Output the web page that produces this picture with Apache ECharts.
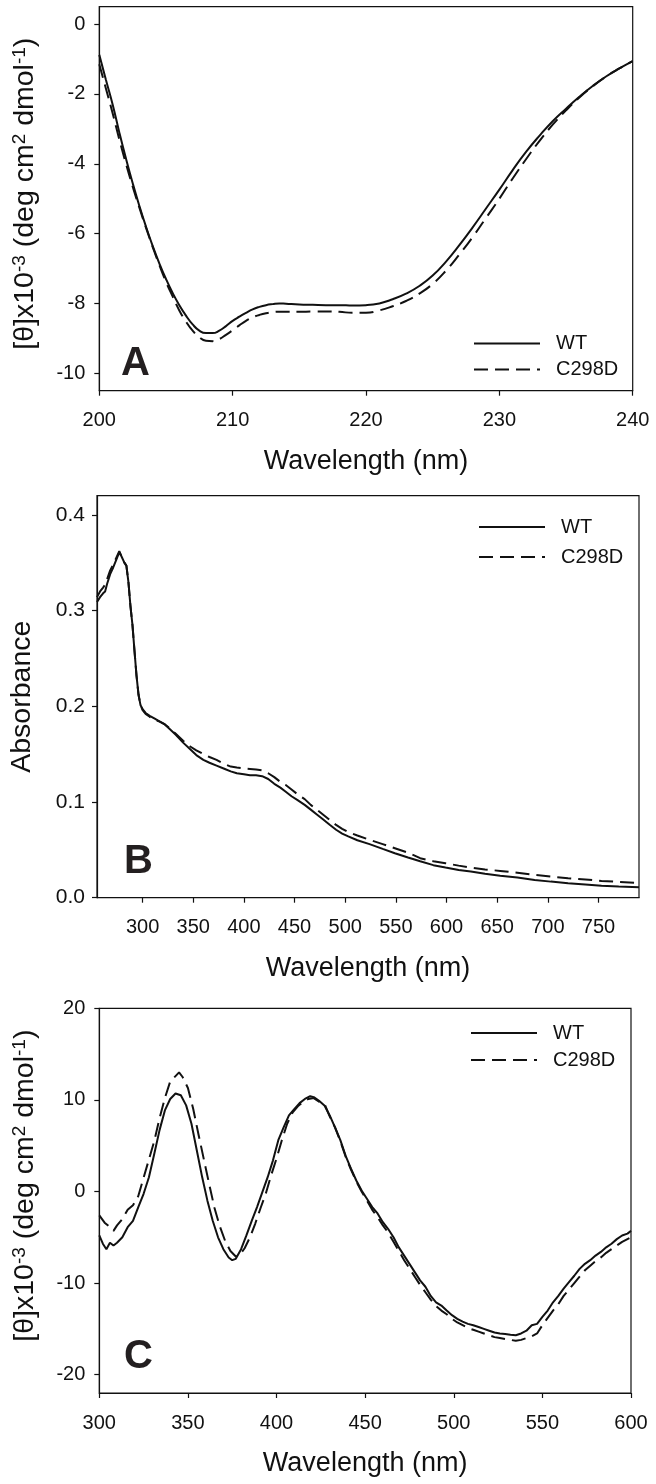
<!DOCTYPE html>
<html>
<head>
<meta charset="utf-8">
<script src="https://cdn.jsdelivr.net/npm/echarts@6.0.0/dist/echarts.min.js"></script>
<style>
html,body{margin:0;padding:0;background:#fff;}
#chart{width:656px;height:1484px;}
</style>
</head>
<body>
<div id="chart"></div>
<script>
// ---------- Panel A : far-UV CD ----------
const wlA = [200,200.5,201,201.5,202,202.5,203,203.5,204,204.5,205,205.5,206,206.5,207,207.5,208,208.5,209,209.5,210,210.5,211,211.5,212,212.5,213,213.5,
  214,215,216,217,218,219,220,221,222,223,224,225,226,227,228,229,230,231,232,233,234,235,236,237,238,239,240];
const wtA = [-0.88,-1.6,-2.3,-3.1,-3.85,-4.55,-5.2,-5.8,-6.35,-6.85,-7.3,-7.7,-8.05,-8.35,-8.6,-8.78,-8.85,-8.85,-8.78,-8.65,-8.5,-8.38,-8.27,-8.17,-8.1,-8.05,-8.02,-8.0,
  -8.01,-8.03,-8.04,-8.05,-8.05,-8.06,-8.05,-8.0,-7.88,-7.72,-7.5,-7.2,-6.8,-6.33,-5.82,-5.28,-4.74,-4.18,-3.66,-3.2,-2.78,-2.42,-2.08,-1.77,-1.5,-1.27,-1.06];
const mutA = [-1.15,-1.85,-2.55,-3.3,-4.0,-4.65,-5.25,-5.83,-6.38,-6.9,-7.38,-7.8,-8.2,-8.52,-8.78,-8.97,-9.07,-9.08,-9.02,-8.9,-8.77,-8.63,-8.5,-8.4,-8.33,-8.28,-8.25,-8.24,
  -8.24,-8.24,-8.23,-8.23,-8.24,-8.27,-8.27,-8.2,-8.08,-7.93,-7.72,-7.44,-7.06,-6.6,-6.1,-5.55,-5.0,-4.42,-3.87,-3.35,-2.88,-2.47,-2.1,-1.78,-1.5,-1.27,-1.06];
const ticksAx = [200,210,220,230,240];
const ticksAy = [-10,-8,-6,-4,-2,0];

// ---------- Panel B : absorbance ----------
const wlB = [255,258,261,263,265,268,271,274,277,279,282,284,286,288,290,292,294,296,298,300,303,307,312,317,322,327,333,340,347,353,360,366,373,380,387,393,400,406,412,418,424,430,436,441,447,453,460,466,472,478,485,491,497,503,512,524,537,549,562,574,587,599,612,624,638,653,670,687,703,720,737,753,770,790];
const wtB = [0.309,0.314,0.318,0.320,0.328,0.338,0.345,0.353,0.361,0.357,0.350,0.347,0.330,0.305,0.285,0.258,0.232,0.212,0.201,0.197,0.193,0.190,0.187,0.184,0.181,0.176,0.170,0.162,0.155,0.149,0.144,0.141,0.138,0.135,0.132,0.130,0.129,0.128,0.128,0.127,0.124,0.119,0.115,0.111,0.106,0.102,0.097,0.092,0.087,0.082,0.076,0.071,0.067,0.064,0.060,0.056,0.051,0.0465,0.042,0.038,0.034,0.0315,0.029,0.0273,0.025,0.023,0.021,0.0185,0.0168,0.015,0.0138,0.0126,0.0118,0.011];
const mutB = [0.314,0.320,0.324,0.327,0.333,0.342,0.348,0.355,0.362,0.357,0.350,0.347,0.330,0.305,0.285,0.258,0.232,0.212,0.201,0.196,0.192,0.189,0.186,0.184,0.181,0.177,0.171,0.164,0.158,0.154,0.150,0.147,0.144,0.140,0.137,0.136,0.135,0.1345,0.134,0.133,0.130,0.126,0.121,0.118,0.113,0.108,0.103,0.097,0.092,0.087,0.081,0.076,0.072,0.0685,0.065,0.0605,0.056,0.0517,0.047,0.0413,0.038,0.036,0.0335,0.0315,0.0295,0.028,0.026,0.0238,0.022,0.0203,0.019,0.0175,0.0165,0.0155];
const ticksBx = [300,350,400,450,500,550,600,650,700,750];
const ticksBy = [0,0.1,0.2,0.3,0.4];

// ---------- Panel C : visible CD ----------
const wtC = [[300,-4.8],[302,-5.7],[304,-6.3],[306,-5.6],[308,-5.9],[310,-5.6],[313,-5.0],[316,-3.9],[319,-3.2],[322,-1.7],[325,-0.25],[328,1.56],[331,4.1],[334,6.7],[337,8.85],[340,10.1],[343,10.7],[346,10.5],[349,9.4],[352,7.4],[355,4.5],[358,1.6],[361,-1.0],[364,-3.2],[367,-5.0],[370,-6.3],[373,-7.2],[375,-7.5],[377,-7.35],[380,-6.3],[383,-4.8],[386,-3.2],[389,-1.7],[392,-0.07],[395,1.56],[398,3.4],[401,5.6],[404,7.0],[407,8.3],[410,9.0],[413,9.65],[416,10.1],[419,10.4],[421,10.3],[424,9.9],[427,9.4],[430,8.3],[433,7.0],[436,5.6],[439,3.9],[442,2.5],[445,1.2],[448,0.1],[451,-0.8],[454,-1.7],[457,-2.4],[460,-3.35],[463,-4.1],[466,-5.0],[469,-6.1],[472,-7.0],[475,-7.9],[478,-8.8],[481,-9.7],[484,-10.4],[487,-11.4],[490,-12.1],[493,-12.45],[496,-13.0],[499,-13.5],[502,-13.9],[505,-14.2],[508,-14.45],[511,-14.6],[514,-14.8],[517,-15.0],[520,-15.2],[523,-15.4],[526,-15.5],[529,-15.55],[532,-15.65],[535,-15.7],[538,-15.5],[541,-15.2],[544,-14.6],[547,-14.45],[550,-13.7],[553,-13.0],[556,-12.1],[559,-11.4],[562,-10.6],[565,-9.9],[568,-9.2],[571,-8.45],[574,-7.9],[577,-7.5],[580,-7.0],[583,-6.6],[586,-6.1],[589,-5.7],[592,-5.2],[595,-4.8],[598,-4.6],[600,-4.3]];
const mutC = [[300,-2.6],[303,-3.4],[306,-3.9],[308,-4.3],[310,-3.7],[313,-3.0],[316,-2.0],[319,-1.5],[322,-0.5],[325,1.5],[328,3.5],[331,5.5],[334,8.0],[337,10.2],[340,12.0],[343,12.6],[345,13.0],[347,12.5],[350,11.3],[353,9.0],[356,6.2],[359,3.5],[362,0.8],[365,-1.8],[368,-3.8],[371,-5.4],[374,-6.5],[377,-7.1],[379,-7.0],[382,-6.2],[385,-5.0],[388,-3.5],[391,-1.8],[394,-0.2],[397,1.8],[400,3.6],[403,5.6],[406,7.4],[409,8.6],[412,9.3],[415,9.8],[418,10.1],[421,10.2],[424,9.8],[427,9.6],[430,8.2],[433,7.0],[436,5.5],[439,3.8],[442,2.4],[445,1.1],[448,0.0],[451,-1.0],[454,-2.0],[457,-2.8],[460,-3.7],[463,-4.5],[466,-5.5],[469,-6.5],[472,-7.5],[475,-8.4],[478,-9.3],[481,-10.2],[484,-11.0],[487,-11.8],[490,-12.5],[493,-13.0],[496,-13.4],[499,-13.9],[502,-14.3],[505,-14.6],[508,-14.9],[511,-15.1],[514,-15.3],[517,-15.5],[520,-15.7],[523,-15.9],[526,-16.0],[529,-16.1],[532,-16.2],[535,-16.3],[538,-16.2],[541,-16.0],[544,-15.8],[547,-15.5],[550,-14.6],[553,-13.8],[556,-13.0],[559,-12.3],[562,-11.4],[565,-10.7],[568,-10.0],[571,-9.3],[574,-8.6],[577,-8.1],[580,-7.6],[583,-7.2],[586,-6.7],[589,-6.3],[592,-5.9],[595,-5.5],[598,-5.2],[600,-5.0]];
const ticksCx = [300,350,400,450,500,550,600];
const ticksCy = [-20,-10,0,10,20];

const seriesNames = ['WT', 'C298D'];
const panelLetters = ['A', 'B', 'C'];
const xTitle = 'Wavelength (nm)';
const cdTitle = '[θ]x10{sup|-3} (deg cm{sup|2} dmol{sup|-1})';
const absTitle = 'Absorbance';

// ---------- styling ----------
const FONT = '"Liberation Sans", Arial, Helvetica, sans-serif';
const INK = '#111';
const DASH = [14, 7];

function zip(xs, ys) { return xs.map((x, i) => [x, ys[i]]); }

function xAxis(gi, min, max, ticks, fs) {
  return {
    type: 'value', gridIndex: gi, min: min, max: max,
    name: xTitle, nameLocation: 'middle', nameGap: 57,
    nameTextStyle: { fontFamily: FONT, fontSize: 27, color: INK },
    axisLine: { show: true, onZero: false, lineStyle: { color: INK, width: 1.2 } },
    axisTick: { show: true, inside: false, length: 5, customValues: ticks, lineStyle: { color: INK, width: 1.2 } },
    axisLabel: { customValues: ticks, margin: 20, fontFamily: FONT, fontSize: fs, color: INK },
    splitLine: { show: false }
  };
}
function yAxis(gi, min, max, ticks, name, fs, margin, shift, decimals) {
  return {
    type: 'value', gridIndex: gi, min: min, max: max,
    name: name, nameLocation: 'middle', nameGap: 60,
    nameTextStyle: {
      fontFamily: FONT, fontSize: 28.5, color: INK, padding: [0, 0, 0, shift],
      rich: { sup: { fontFamily: FONT, fontSize: 19, color: INK, verticalAlign: 'top' } }
    },
    axisLine: { show: true, onZero: false, lineStyle: { color: INK, width: 1.2 } },
    axisTick: { show: true, inside: false, length: 5, customValues: ticks, lineStyle: { color: INK, width: 1.2 } },
    axisLabel: {
      customValues: ticks, margin: margin, fontFamily: FONT, fontSize: fs, color: INK,
      formatter: function (v) { return Number(v).toFixed(decimals); }
    },
    splitLine: { show: false }
  };
}
function line(name, xi, data, dashed, smooth) {
  return {
    name: name, type: 'line', xAxisIndex: xi, yAxisIndex: xi, data: data,
    symbol: 'none', showSymbol: false, smooth: smooth ? 0.5 : false,
    animation: false, silent: true,
    itemStyle: { color: INK },
    lineStyle: { color: INK, width: 2, type: dashed ? DASH : 'solid' }
  };
}
function legend(left, top, gap) {
  return {
    orient: 'vertical', left: left, top: top, padding: 0, itemWidth: 66, itemHeight: 14, itemGap: gap,
    data: seriesNames, selectedMode: false,
    itemStyle: { opacity: 0, color: 'transparent', borderWidth: 0 },
    textStyle: { fontFamily: FONT, fontSize: 20, color: INK, padding: [0, 0, 0, 11] }
  };
}
function letter(ch, left, bottom) {
  return {
    type: 'text', left: left, top: bottom - 32,
    style: { text: ch, font: 'bold 40px ' + FONT, fill: '#231f20' }
  };
}

const grids = [
  { left: 99.3, top: 6.7, width: 533.4, height: 384, show: true, borderColor: INK, borderWidth: 1.2, backgroundColor: 'transparent' },
  { left: 96.7, top: 495.7, width: 542.3, height: 402, show: true, borderColor: INK, borderWidth: 1.2, backgroundColor: 'transparent' },
  { left: 99.3, top: 1008.3, width: 531.7, height: 384.7, show: true, borderColor: INK, borderWidth: 1.2, backgroundColor: 'transparent' }
];

const option = {
  backgroundColor: '#fff',
  animation: false,
  grid: grids,
  xAxis: [
    xAxis(0, 200, 240, ticksAx, 20),
    xAxis(1, 255, 790, ticksBx, 20),
    xAxis(2, 300, 600, ticksCx, 20)
  ],
  yAxis: [
    yAxis(0, -10.5, 0.5, ticksAy, cdTitle, 20, 14, 10, 0),
    yAxis(1, 0, 0.42, ticksBy, absTitle, 21, 12, 0, 1),
    yAxis(2, -22, 20, ticksCy, cdTitle, 20, 14, 30, 0)
  ],
  legend: [
    legend(473, 333.5, 6),
    legend(478, 517, 10),
    legend(470, 1023, 7)
  ],
  series: [
    line(seriesNames[0], 0, zip(wlA, wtA), false, true),
    line(seriesNames[1], 0, zip(wlA, mutA), true, true),
    line(seriesNames[0], 1, zip(wlB, wtB), false, false),
    line(seriesNames[1], 1, zip(wlB, mutB), true, false),
    line(seriesNames[0], 2, wtC, false, false),
    line(seriesNames[1], 2, mutC, true, false)
  ],
  graphic: [
    letter(panelLetters[0], 121, 376),
    letter(panelLetters[1], 124, 874),
    letter(panelLetters[2], 124, 1369)
  ]
};

const chart = echarts.init(document.getElementById('chart'), null, { renderer: 'canvas' });
chart.setOption(option);
</script>
</body>
</html>
